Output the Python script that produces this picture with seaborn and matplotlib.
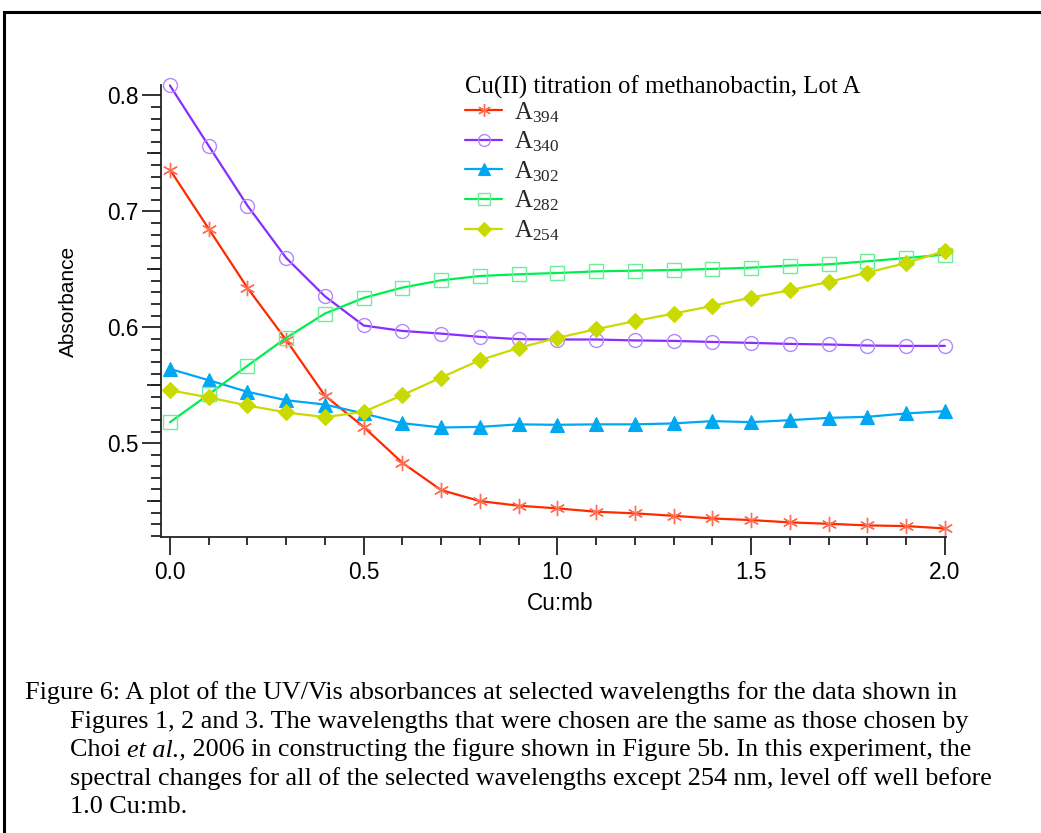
import matplotlib
matplotlib.use("Agg")
import matplotlib.pyplot as plt
from matplotlib.lines import Line2D
from matplotlib.ticker import MultipleLocator, FixedLocator, NullFormatter
import seaborn as sns

# Cu:mb molar ratio
ratio = [0.0, 0.1, 0.2, 0.3, 0.4, 0.5, 0.6, 0.7, 0.8, 0.9, 1.0,
         1.1, 1.2, 1.3, 1.4, 1.5, 1.6, 1.7, 1.8, 1.9, 2.0]

# absorbance at each wavelength
a394 = [0.736, 0.685, 0.634, 0.589, 0.541, 0.514, 0.483, 0.4595, 0.450, 0.446, 0.4437,
        0.4408, 0.4394, 0.4373, 0.435, 0.4336, 0.4316, 0.4304, 0.429, 0.4284, 0.4264]
a340 = [0.8086, 0.7566, 0.705, 0.6598, 0.6267, 0.6015, 0.5968, 0.5945, 0.5917, 0.5897, 0.5894,
        0.5894, 0.5886, 0.5882, 0.5873, 0.5865, 0.5856, 0.5851, 0.5842, 0.5839, 0.5839]
a302 = [0.564, 0.5543, 0.5443, 0.537, 0.5333, 0.5256, 0.5172, 0.5135, 0.514, 0.5162, 0.5158,
        0.5162, 0.5162, 0.517, 0.519, 0.5181, 0.5198, 0.5218, 0.5227, 0.5256, 0.5276]
a282 = [0.518, 0.542, 0.5667, 0.5908, 0.6118, 0.6253, 0.6342, 0.6405, 0.6442, 0.6457, 0.6468,
        0.6482, 0.6488, 0.6494, 0.6503, 0.6514, 0.6532, 0.6543, 0.6569, 0.6597, 0.6627]
a254 = [0.5457, 0.5394, 0.5325, 0.5265, 0.5224, 0.527, 0.5414, 0.5566, 0.5716, 0.5822, 0.5908,
        0.5983, 0.6053, 0.6118, 0.6184, 0.6256, 0.6319, 0.6391, 0.6472, 0.6554, 0.6658]

series_labels = [r"A$_{394}$", r"A$_{340}$", r"A$_{302}$", r"A$_{282}$", r"A$_{254}$"]
legend_title = "Cu(II) titration of methanobactin, Lot A"
x_label = "Cu:mb"
y_label = "Absorbance"
caption_lines = [
    "Figure 6: A plot of the UV/Vis absorbances at selected wavelengths for the data shown in",
    "Figures 1, 2 and 3. The wavelengths that were chosen are the same as those chosen by",
    None,  # line with italic part, assembled below
    "spectral changes for all of the selected wavelengths except 254 nm, level off well before",
    "1.0 Cu:mb.",
]

sns.set_theme(style="ticks")
plt.rcParams["font.family"] = ["Liberation Sans", "DejaVu Sans"]
plt.rcParams["mathtext.fontset"] = "custom"
plt.rcParams["mathtext.rm"] = "Liberation Serif"
plt.rcParams["mathtext.it"] = "Liberation Serif:italic"

W, H = 1041, 833
fig = plt.figure(figsize=(W / 100, H / 100), dpi=100, facecolor="white")

# axes box in pixels: left 161, right 946, top 85, bottom 537
L, R, T, B = 161, 946, 85, 537
ax = fig.add_axes([L / W, 1 - B / H, (R - L) / W, (B - T) / H])
ax.set_facecolor("white")

styles = [
    dict(color="#FF2A00", marker=(6, 2, 0), markersize=11, markerfacecolor="none",
         markeredgecolor="#FF6E55", markeredgewidth=1.0),
    dict(color="#8A2BFF", marker="o", markersize=10, markerfacecolor="none",
         markeredgecolor="#B487FF", markeredgewidth=1.0),
    dict(color="#00A8F2", marker="^", markersize=10, markerfacecolor="#00A8F2",
         markeredgecolor="#00A8F2", markeredgewidth=0.8),
    dict(color="#00EE50", marker="s", markersize=10, markerfacecolor="none",
         markeredgecolor="#6EEE98", markeredgewidth=1.0),
    dict(color="#C8DA00", marker="D", markersize=8.5, markerfacecolor="#C8DA00",
         markeredgecolor="#C8DA00", markeredgewidth=0.8),
]

for vals, st in zip([a394, a340, a302, a282, a254], styles):
    sns.lineplot(x=ratio, y=vals, ax=ax, linewidth=1.6, legend=False,
                 errorbar=None, sort=False, clip_on=False, **st)

ax.set_xlim(-0.023, 2.003)
ax.set_ylim(0.419, 0.809)

for side in ("top", "right"):
    ax.spines[side].set_visible(False)
for side in ("left", "bottom"):
    ax.spines[side].set_linewidth(1.3)
    ax.spines[side].set_color("#222222")

ax.xaxis.set_major_locator(FixedLocator([0.0, 0.5, 1.0, 1.5, 2.0]))
ax.xaxis.set_minor_locator(MultipleLocator(0.1))
ax.yaxis.set_major_locator(FixedLocator([0.5, 0.6, 0.7, 0.8]))
ax.yaxis.set_minor_locator(MultipleLocator(0.01))
ax.set_xticklabels(["0.0", "0.5", "1.0", "1.5", "2.0"])
ax.set_yticklabels(["0.5", "0.6", "0.7", "0.8"])

ax.tick_params(axis="x", which="major", length=13, width=1.3, color="#222222",
               labelsize=16.3, pad=4, labelcolor="black")
ax.tick_params(axis="x", which="minor", length=6, width=1.3, color="#222222")
ax.tick_params(axis="y", which="major", length=14, width=1.3, color="#222222",
               labelsize=16.3, pad=2, labelcolor="black")
ax.tick_params(axis="y", which="minor", length=7, width=1.3, color="#222222")

# medium-length ticks at the half-decade positions
mid = ax.secondary_yaxis("left")
mid.spines["left"].set_visible(False)
mid.yaxis.set_major_locator(FixedLocator([0.45, 0.55, 0.65, 0.75]))
mid.yaxis.set_major_formatter(NullFormatter())
mid.tick_params(axis="y", which="major", length=10, width=1.3, color="#222222")
mid.yaxis.set_minor_locator(FixedLocator([]))

ax.set_xlabel(x_label, fontsize=16.3, color="black")
ax.xaxis.set_label_coords((560 - L) / (R - L), (B - 604) / (B - T))
ax.xaxis.label.set_va("center")
ax.set_ylabel(y_label, fontsize=15, color="black")
ax.yaxis.set_label_coords((68 - L) / (R - L), (B - 301) / (B - T))
ax.yaxis.label.set_va("center")

# legend title and entries
serif = "Liberation Serif"
fig.text(465 / W, 1 - 87 / H, legend_title, family=serif, fontsize=17.8,
         ha="left", va="center", color="black")
handles = ax.get_lines()[:5]
leg = ax.legend(handles, series_labels, loc="upper left",
                bbox_to_anchor=(465 / W, 1 - 100 / H), bbox_transform=fig.transFigure,
                frameon=False, borderpad=0, borderaxespad=0, handlelength=1.5,
                handletextpad=0.5, labelspacing=0.2, markerscale=0.85,
                prop={"family": serif, "size": 17.8})

# caption
cap_kw = dict(family=serif, fontsize=18.8, color="black", va="baseline")
baselines = [699, 728, 756, 785, 813]
fig.text(25 / W, 1 - baselines[0] / H, caption_lines[0], **cap_kw)
fig.text(70 / W, 1 - baselines[1] / H, caption_lines[1], **cap_kw)
t1 = fig.text(70 / W, 1 - baselines[2] / H, "Choi ", **cap_kw)
t2 = fig.text(0, 0, "et al.,", **cap_kw)
t2.set_fontstyle("italic")
t3 = fig.text(0, 0, " 2006 in constructing the figure shown in Figure 5b. In this experiment, the",
              **cap_kw)
fig.text(70 / W, 1 - baselines[3] / H, caption_lines[3], **cap_kw)
fig.text(70 / W, 1 - baselines[4] / H, caption_lines[4], **cap_kw)

fig.canvas.draw()
r = fig.canvas.get_renderer()
bb1 = t1.get_window_extent(r)
t2.set_position((bb1.x1 / W, 1 - baselines[2] / H))
fig.canvas.draw()
bb2 = t2.get_window_extent(r)
t3.set_position((bb2.x1 / W, 1 - baselines[2] / H))

# page frame
fig.add_artist(Line2D([4 / W, 4 / W, 1.0], [0.0, 1 - 12 / H, 1 - 12 / H],
                      transform=fig.transFigure, color="black", linewidth=2.2,
                      solid_joinstyle="miter"))

fig.savefig("out.png", dpi=100, facecolor="white")
